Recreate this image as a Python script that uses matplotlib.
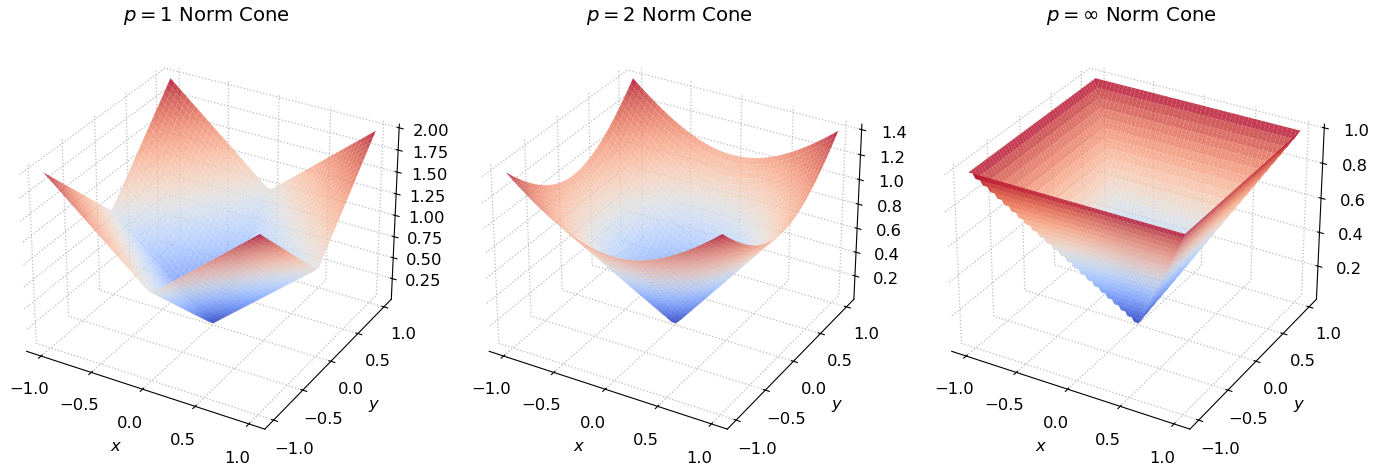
import numpy as np
import matplotlib
matplotlib.use('Agg')
import matplotlib.pyplot as plt

# grid the surfaces are evaluated on, and the norm order of each panel
grid_start = -1.0
grid_stop = 1.0
grid_points = 50
norm_orders = [1, 2, np.inf]
titles = ['$p=1$ Norm Cone', '$p=2$ Norm Cone', r'$p=\infty$ Norm Cone']
xy_ticks = [-1.0, -0.5, 0.0, 0.5, 1.0]
z_ticks = [
    [0.25, 0.50, 0.75, 1.00, 1.25, 1.50, 1.75, 2.00],
    [0.2, 0.4, 0.6, 0.8, 1.0, 1.2, 1.4],
    [0.2, 0.4, 0.6, 0.8, 1.0],
]
z_formats = ['%.2f', '%.1f', '%.1f']
left_edges = [-0.0039, 0.3308, 0.6655]

plt.rcParams['font.size'] = 11.8
plt.rcParams['grid.linestyle'] = ':'
plt.rcParams['grid.color'] = '#bbbbbb'
plt.rcParams['grid.linewidth'] = 0.9


def main():
    xs = np.linspace(grid_start, grid_stop, grid_points)
    X, Y = np.meshgrid(xs, xs)
    fig = plt.figure(figsize=(13.82, 4.69), dpi=100)

    for i in range(3):
        ax = fig.add_axes([left_edges[i], 0.028, 0.3068, 0.904], projection='3d')
        Z = np.linalg.norm(np.stack([X, Y]), ord=norm_orders[i], axis=0)
        ax.plot_surface(X, Y, Z, cmap='coolwarm', alpha=0.8, linewidth=0)
        ax.set_xticks(xy_ticks)
        ax.set_yticks(xy_ticks)
        ax.set_zticks(z_ticks[i])
        ax.set_zticklabels([z_formats[i] % v for v in z_ticks[i]])
        ax.set_xlabel('$x$', labelpad=8)
        ax.set_ylabel('$y$', labelpad=8)
        for axis in [ax.xaxis, ax.yaxis, ax.zaxis]:
            axis.pane.fill = False
            axis.pane.set_edgecolor('none')
        ax.tick_params(axis='x', pad=5.5)
        ax.tick_params(axis='y', pad=5.5)
        ax.tick_params(axis='z', pad=6)
        ax.set_title(titles[i], fontsize=14.1, y=1.093)

    fig.savefig('out.png', dpi=100)


if __name__ == '__main__':
    main()
